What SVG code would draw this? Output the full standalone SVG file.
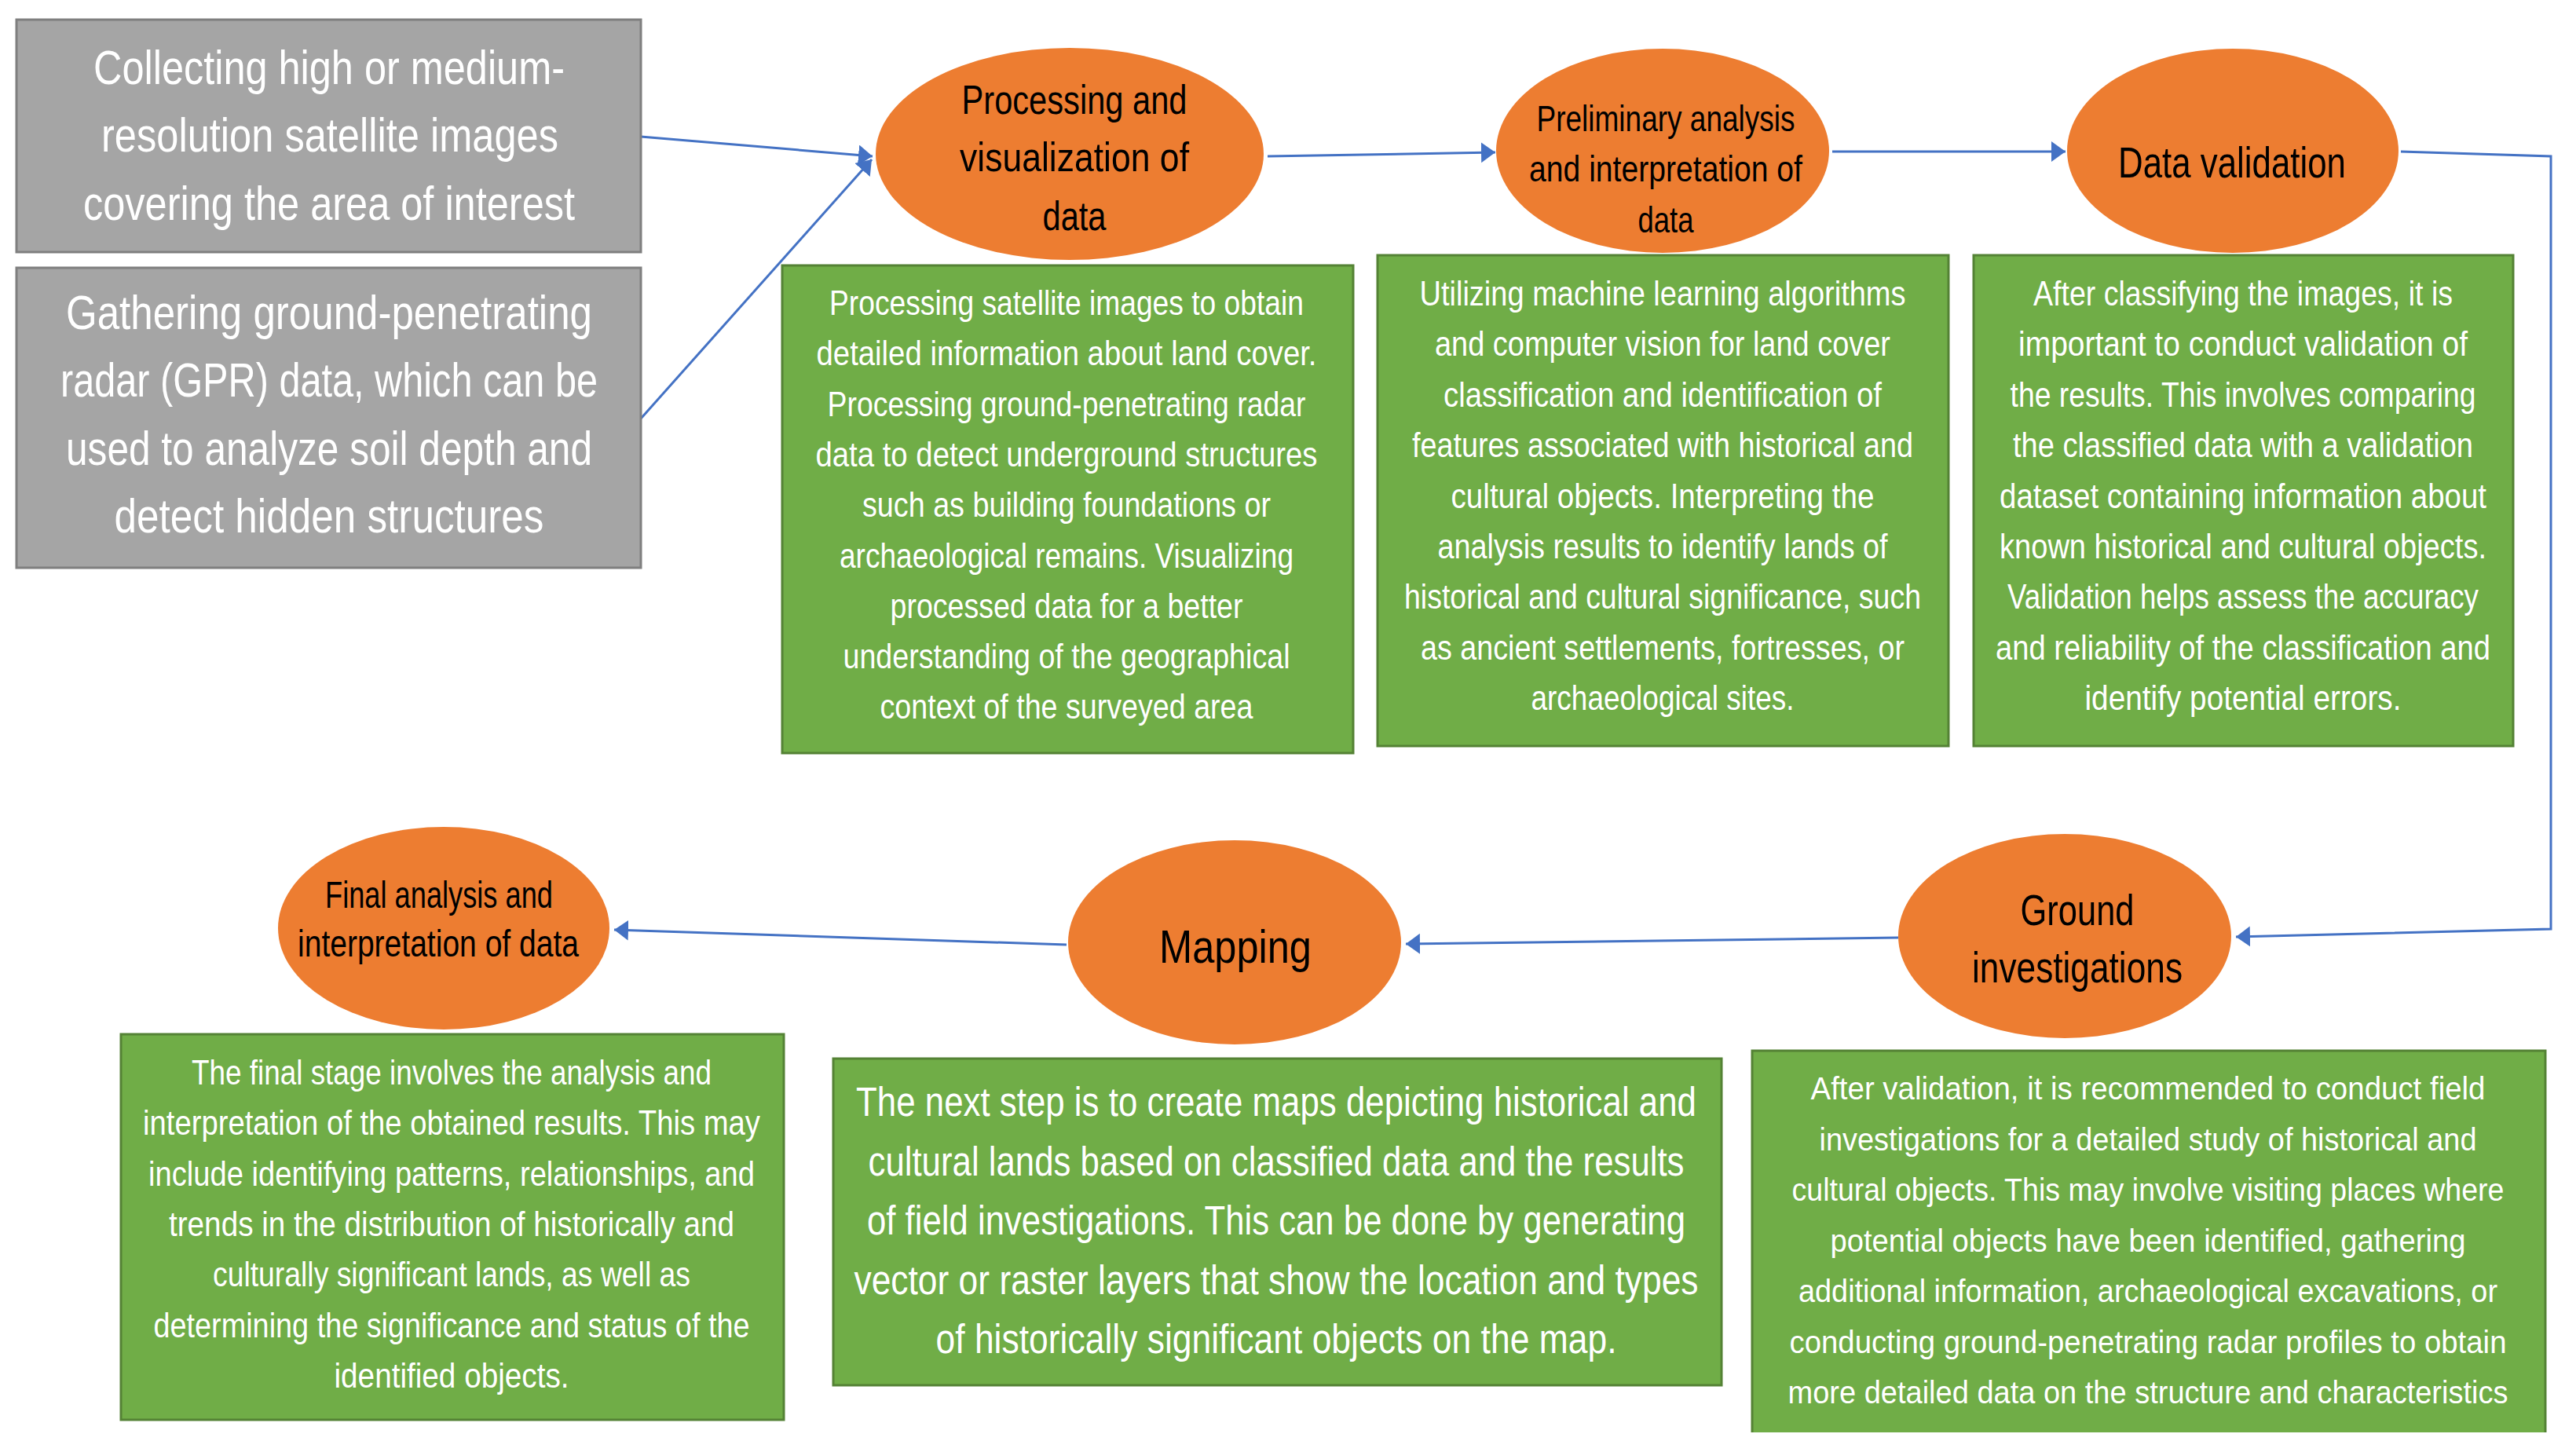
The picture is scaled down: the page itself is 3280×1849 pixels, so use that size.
<svg xmlns="http://www.w3.org/2000/svg" width="3280" height="1849" viewBox="0 0 3280 1849">
<style>
.gray{fill:#A5A5A5;stroke:#7F7F7F;stroke-width:3}
.green{fill:#70AD47;stroke:#548235;stroke-width:3}
.oval{fill:#ED7D31}
.wt{font-family:"Liberation Sans",Arial,sans-serif;fill:#FFFFFF;text-anchor:middle}
.bt{font-family:"Liberation Sans",Arial,sans-serif;fill:#000000;text-anchor:middle}
.g{font-size:61px}
.s{font-size:44px}
.r{font-size:40px}
.m{font-size:51px}
.con{fill:none;stroke:#4472C4;stroke-width:3}
</style>
<defs>
<marker id="ah" markerUnits="userSpaceOnUse" markerWidth="20" markerHeight="28" refX="18" refY="13" orient="auto">
<path d="M0,0 L18,13 L0,26 Z" fill="#4472C4"/>
</marker>
</defs>
<rect width="3280" height="1849" fill="#FFFFFF"/>

<g id="connectors">
<line class="con" x1="816" y1="174" x2="1111" y2="199" marker-end="url(#ah)"/>
<line class="con" x1="816" y1="533" x2="1110" y2="203" marker-end="url(#ah)"/>
<line class="con" x1="1614" y1="199" x2="1904" y2="194" marker-end="url(#ah)"/>
<line class="con" x1="2333" y1="193" x2="2630" y2="193" marker-end="url(#ah)"/>
<polyline class="con" points="3057,193 3248,199 3248,1183 2847,1193" marker-end="url(#ah)"/>
<line class="con" x1="2417" y1="1194" x2="1790" y2="1202" marker-end="url(#ah)"/>
<line class="con" x1="1358" y1="1203" x2="782" y2="1184" marker-end="url(#ah)"/>
</g>

<g id="collect">
<rect class="gray" x="21" y="25" width="795" height="296"/>
<text class="wt g"><tspan x="419" y="107" textLength="600" lengthAdjust="spacingAndGlyphs">Collecting high or medium-</tspan><tspan x="420" y="193" textLength="582" lengthAdjust="spacingAndGlyphs">resolution satellite images</tspan><tspan x="419" y="280" textLength="626" lengthAdjust="spacingAndGlyphs">covering the area of interest</tspan></text>
</g>

<g id="gather">
<rect class="gray" x="21" y="341" width="795" height="382"/>
<text class="wt g"><tspan x="419" y="419" textLength="670" lengthAdjust="spacingAndGlyphs">Gathering ground-penetrating</tspan><tspan x="419" y="505" textLength="684" lengthAdjust="spacingAndGlyphs">radar (GPR) data, which can be</tspan><tspan x="419" y="592" textLength="670" lengthAdjust="spacingAndGlyphs">used to analyze soil depth and</tspan><tspan x="419" y="678" textLength="547" lengthAdjust="spacingAndGlyphs">detect hidden structures</tspan></text>
</g>

<g id="processing">
<ellipse class="oval" cx="1362" cy="196" rx="247" ry="135"/>
<text class="bt" font-size="52"><tspan x="1368" y="145" textLength="287" lengthAdjust="spacingAndGlyphs">Processing and</tspan><tspan x="1368" y="218" textLength="292" lengthAdjust="spacingAndGlyphs">visualization of</tspan><tspan x="1368" y="293" textLength="81" lengthAdjust="spacingAndGlyphs">data</tspan></text>
</g>

<g id="processing-desc">
<rect class="green" x="996" y="338" width="727" height="621"/>
<text class="wt s"><tspan x="1358" y="401" textLength="604" lengthAdjust="spacingAndGlyphs">Processing satellite images to obtain</tspan><tspan x="1358" y="465" textLength="637" lengthAdjust="spacingAndGlyphs">detailed information about land cover.</tspan><tspan x="1358" y="530" textLength="609" lengthAdjust="spacingAndGlyphs">Processing ground-penetrating radar</tspan><tspan x="1358" y="594" textLength="639" lengthAdjust="spacingAndGlyphs">data to detect underground structures</tspan><tspan x="1358" y="658" textLength="520" lengthAdjust="spacingAndGlyphs">such as building foundations or</tspan><tspan x="1358" y="723" textLength="578" lengthAdjust="spacingAndGlyphs">archaeological remains. Visualizing</tspan><tspan x="1358" y="787" textLength="449" lengthAdjust="spacingAndGlyphs">processed data for a better</tspan><tspan x="1358" y="851" textLength="569" lengthAdjust="spacingAndGlyphs">understanding of the geographical</tspan><tspan x="1358" y="915" textLength="475" lengthAdjust="spacingAndGlyphs">context of the surveyed area</tspan></text>
</g>

<g id="preliminary">
<ellipse class="oval" cx="2117" cy="192" rx="212" ry="130"/>
<text class="bt" font-size="47"><tspan x="2121" y="167" textLength="329" lengthAdjust="spacingAndGlyphs">Preliminary analysis</tspan><tspan x="2121" y="231" textLength="348" lengthAdjust="spacingAndGlyphs">and interpretation of</tspan><tspan x="2121" y="296" textLength="71" lengthAdjust="spacingAndGlyphs">data</tspan></text>
</g>

<g id="preliminary-desc">
<rect class="green" x="1754" y="325" width="727" height="625"/>
<text class="wt s"><tspan x="2117" y="389" textLength="619" lengthAdjust="spacingAndGlyphs">Utilizing machine learning algorithms</tspan><tspan x="2117" y="453" textLength="580" lengthAdjust="spacingAndGlyphs">and computer vision for land cover</tspan><tspan x="2117" y="518" textLength="558" lengthAdjust="spacingAndGlyphs">classification and identification of</tspan><tspan x="2117" y="582" textLength="638" lengthAdjust="spacingAndGlyphs">features associated with historical and</tspan><tspan x="2117" y="647" textLength="539" lengthAdjust="spacingAndGlyphs">cultural objects. Interpreting the</tspan><tspan x="2117" y="711" textLength="573" lengthAdjust="spacingAndGlyphs">analysis results to identify lands of</tspan><tspan x="2117" y="775" textLength="658" lengthAdjust="spacingAndGlyphs">historical and cultural significance, such</tspan><tspan x="2117" y="840" textLength="616" lengthAdjust="spacingAndGlyphs">as ancient settlements, fortresses, or</tspan><tspan x="2117" y="904" textLength="335" lengthAdjust="spacingAndGlyphs">archaeological sites.</tspan></text>
</g>

<g id="validation">
<ellipse class="oval" cx="2843" cy="192" rx="211" ry="130"/>
<text class="bt" font-size="56" x="2842" y="226" textLength="290" lengthAdjust="spacingAndGlyphs">Data validation</text>
</g>

<g id="validation-desc">
<rect class="green" x="2513" y="325" width="687" height="625"/>
<text class="wt s"><tspan x="2856" y="389" textLength="534" lengthAdjust="spacingAndGlyphs">After classifying the images, it is</tspan><tspan x="2856" y="453" textLength="572" lengthAdjust="spacingAndGlyphs">important to conduct validation of</tspan><tspan x="2856" y="518" textLength="593" lengthAdjust="spacingAndGlyphs">the results. This involves comparing</tspan><tspan x="2856" y="582" textLength="586" lengthAdjust="spacingAndGlyphs">the classified data with a validation</tspan><tspan x="2856" y="647" textLength="620" lengthAdjust="spacingAndGlyphs">dataset containing information about</tspan><tspan x="2856" y="711" textLength="620" lengthAdjust="spacingAndGlyphs">known historical and cultural objects.</tspan><tspan x="2856" y="775" textLength="600" lengthAdjust="spacingAndGlyphs">Validation helps assess the accuracy</tspan><tspan x="2856" y="840" textLength="630" lengthAdjust="spacingAndGlyphs">and reliability of the classification and</tspan><tspan x="2856" y="904" textLength="403" lengthAdjust="spacingAndGlyphs">identify potential errors.</tspan></text>
</g>

<g id="ground">
<ellipse class="oval" cx="2629" cy="1192" rx="212" ry="130"/>
<text class="bt" font-size="55"><tspan x="2645" y="1178" textLength="145" lengthAdjust="spacingAndGlyphs">Ground</tspan><tspan x="2645" y="1251" textLength="268" lengthAdjust="spacingAndGlyphs">investigations</tspan></text>
</g>

<g id="ground-desc">
<rect class="green" x="2231" y="1338" width="1010" height="500"/>
<rect x="2220" y="1824" width="1040" height="25" fill="#FFFFFF"/>
<text class="wt r"><tspan x="2735" y="1400" textLength="859" lengthAdjust="spacingAndGlyphs">After validation, it is recommended to conduct field</tspan><tspan x="2735" y="1465" textLength="837" lengthAdjust="spacingAndGlyphs">investigations for a detailed study of historical and</tspan><tspan x="2735" y="1529" textLength="907" lengthAdjust="spacingAndGlyphs">cultural objects. This may involve visiting places where</tspan><tspan x="2735" y="1594" textLength="809" lengthAdjust="spacingAndGlyphs">potential objects have been identified, gathering</tspan><tspan x="2735" y="1658" textLength="890" lengthAdjust="spacingAndGlyphs">additional information, archaeological excavations, or</tspan><tspan x="2735" y="1723" textLength="913" lengthAdjust="spacingAndGlyphs">conducting ground-penetrating radar profiles to obtain</tspan><tspan x="2735" y="1787" textLength="917" lengthAdjust="spacingAndGlyphs">more detailed data on the structure and characteristics</tspan></text>
</g>

<g id="mapping">
<ellipse class="oval" cx="1572" cy="1200" rx="212" ry="130"/>
<text class="bt" font-size="59" x="1573" y="1226" textLength="194" lengthAdjust="spacingAndGlyphs">Mapping</text>
</g>

<g id="mapping-desc">
<rect class="green" x="1061" y="1348" width="1131" height="416"/>
<text class="wt m"><tspan x="1625" y="1421" textLength="1070" lengthAdjust="spacingAndGlyphs">The next step is to create maps depicting historical and</tspan><tspan x="1625" y="1497" textLength="1039" lengthAdjust="spacingAndGlyphs">cultural lands based on classified data and the results</tspan><tspan x="1625" y="1572" textLength="1042" lengthAdjust="spacingAndGlyphs">of field investigations. This can be done by generating</tspan><tspan x="1625" y="1648" textLength="1075" lengthAdjust="spacingAndGlyphs">vector or raster layers that show the location and types</tspan><tspan x="1625" y="1723" textLength="867" lengthAdjust="spacingAndGlyphs">of historically significant objects on the map.</tspan></text>
</g>

<g id="final">
<ellipse class="oval" cx="565" cy="1182" rx="211" ry="129"/>
<text class="bt" font-size="49"><tspan x="559" y="1156" textLength="290" lengthAdjust="spacingAndGlyphs">Final analysis and</tspan><tspan x="558" y="1218" textLength="358" lengthAdjust="spacingAndGlyphs">interpretation of data</tspan></text>
</g>

<g id="final-desc">
<rect class="green" x="154" y="1317" width="844" height="491"/>
<text class="wt s"><tspan x="575" y="1381" textLength="662" lengthAdjust="spacingAndGlyphs">The final stage involves the analysis and</tspan><tspan x="575" y="1445" textLength="786" lengthAdjust="spacingAndGlyphs">interpretation of the obtained results. This may</tspan><tspan x="575" y="1510" textLength="772" lengthAdjust="spacingAndGlyphs">include identifying patterns, relationships, and</tspan><tspan x="575" y="1574" textLength="720" lengthAdjust="spacingAndGlyphs">trends in the distribution of historically and</tspan><tspan x="575" y="1638" textLength="608" lengthAdjust="spacingAndGlyphs">culturally significant lands, as well as</tspan><tspan x="575" y="1703" textLength="759" lengthAdjust="spacingAndGlyphs">determining the significance and status of the</tspan><tspan x="575" y="1767" textLength="299" lengthAdjust="spacingAndGlyphs">identified objects.</tspan></text>
</g>
</svg>
